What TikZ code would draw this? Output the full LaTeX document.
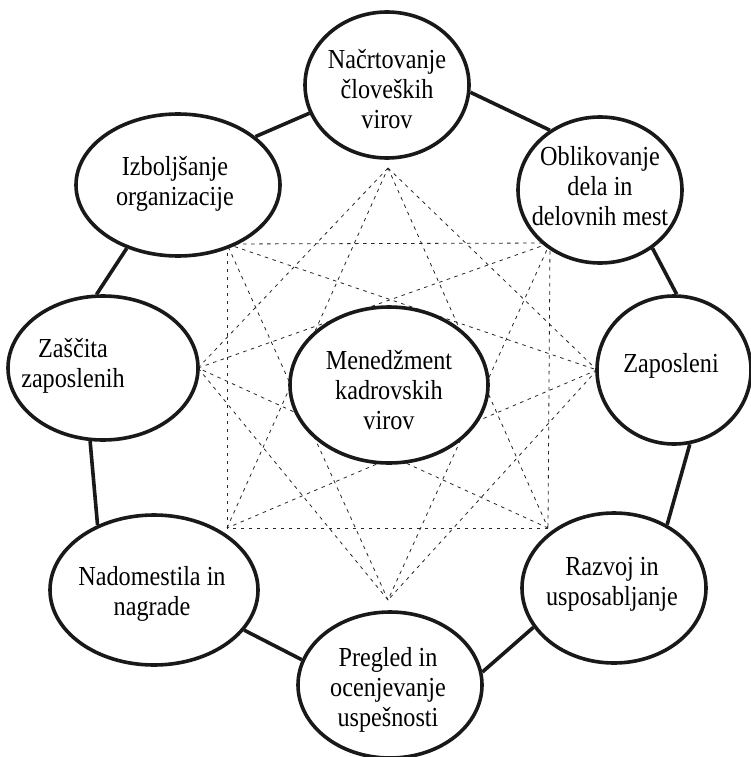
\documentclass[tikz,border=0pt]{standalone}
\usepackage{fontspec}
\setmainfont{Liberation Serif}[FakeStretch=0.88]
\usetikzlibrary{shapes.geometric}

\tikzset{
  bubble/.style={ellipse, draw=black!90, line width=3.6pt, fill=white, inner sep=0pt},
  caption/.style={align=center, inner sep=0pt, font=\fontsize{27.5}{30}\selectfont},
  ring/.style={line width=3.6pt, draw=black!90},
  web/.style={line width=0.8pt, dash pattern=on 3.5pt off 4.5pt, draw=black!85},
}

\begin{document}
\begin{tikzpicture}[x=1pt, y=-1pt]
  \useasboundingbox (0,0) rectangle (751,757);

  % points of the dashed star
  \coordinate (p0) at (388,168);
  \coordinate (p1) at (550,243);
  \coordinate (p2) at (597,370);
  \coordinate (p3) at (548,528);
  \coordinate (p4) at (388,600);
  \coordinate (p5) at (227,528);
  \coordinate (p6) at (198,368);
  \coordinate (p7) at (227,244);

  % each point joined to the points two and three steps away
  \foreach \a/\b in {0/2,1/3,2/4,3/5,4/6,5/7,6/0,7/1,
                     0/3,1/4,2/5,3/6,4/7,5/0,6/1,7/2}
    \draw[web] (p\a) -- (p\b);

  % outer ring of activities
  \node[bubble, minimum width=164pt, minimum height=146pt] (plan) at (387,85) {};
  \node[bubble, minimum width=204pt, minimum height=142pt] (improve) at (178,185) {};
  \node[bubble, minimum width=164pt, minimum height=146pt] (design) at (600,190) {};
  \node[bubble, minimum width=190pt, minimum height=144pt] (protect) at (103,368) {};
  \node[bubble, minimum width=154pt, minimum height=148pt] (staff) at (674,370) {};
  \node[bubble, minimum width=208pt, minimum height=150pt] (reward) at (154,590) {};
  \node[bubble, minimum width=184pt, minimum height=150pt] (train) at (614,588) {};
  \node[bubble, minimum width=184pt, minimum height=146pt] (review) at (390,685) {};

  % core
  \node[bubble, minimum width=198pt, minimum height=156pt] (core) at (389,385) {};

  % captions
  \node[caption] (tplan) at (387,89) {Načrtovanje\\človeških\\virov};
  \node[caption] (timprove) at (175,184) {Izboljšanje\\organizacije};
  \node[caption] (tdesign) at (600,186) {Oblikovanje\\dela in\\delovnih mest};
  \node[caption] (tprotect) at (73,366) {Zaščita\\zaposlenih};
  \node[caption] (tstaff) at (671,366) {Zaposleni};
  \node[caption] (tcore) at (389,390) {Menedžment\\kadrovskih\\virov};
  \node[caption] (treward) at (152,594) {Nadomestila in\\nagrade};
  \node[caption] (ttrain) at (612,584) {Razvoj in\\usposabljanje};
  \node[caption] (treview) at (388,690) {Pregled in\\ocenjevanje\\uspešnosti};

  % links around the ring
  \draw[ring] (plan.-5) -- (design.130);
  \draw[ring] (plan.200) -- (improve.32);
  \draw[ring] (design.-48) -- (staff.88);
  \draw[ring] (staff.-78) -- (train.50);
  \draw[ring] (improve.231) -- (protect.95);
  \draw[ring] (protect.-100) -- (reward.131);
  \draw[ring] (reward.-24) -- (review.164);
  \draw[ring] (review.8) -- (train.206);
\end{tikzpicture}
\end{document}
